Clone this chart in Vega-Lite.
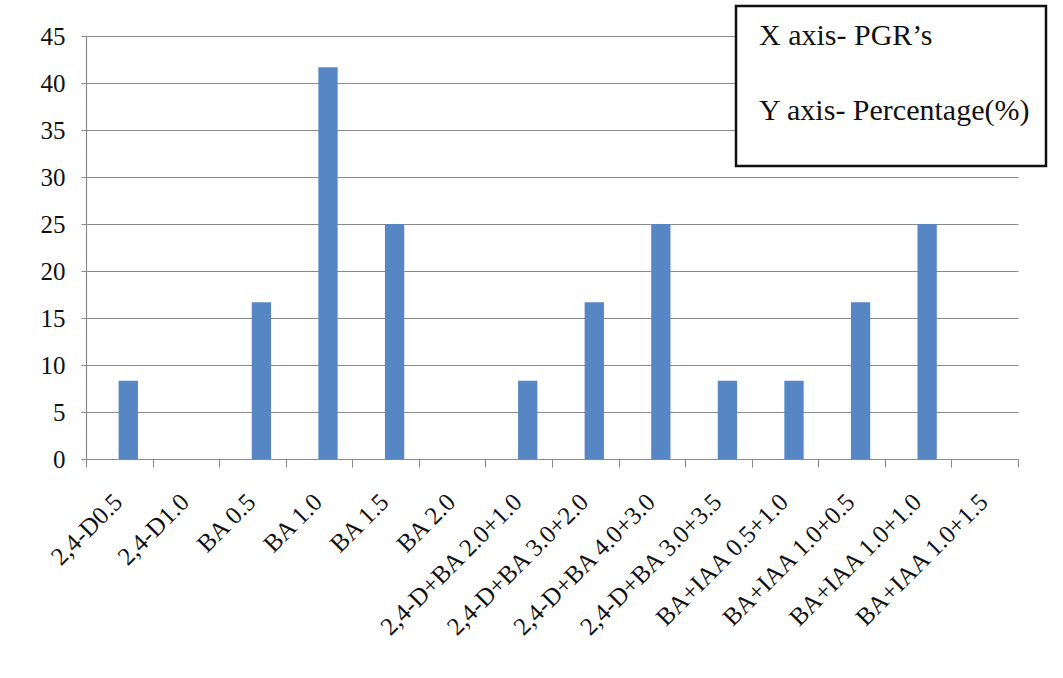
{
  "$schema": "https://vega.github.io/schema/vega-lite/v6.json",
  "width": 932,
  "height": 423,
  "autosize": {"type": "none"},
  "padding": {"left": 86, "top": 36, "right": 45, "bottom": 219},
  "background": "white",
  "config": {
    "view": {"stroke": null},
    "font": "Liberation Serif",
    "axis": {
      "labelFont": "Liberation Serif",
      "labelFontSize": 25,
      "labelColor": "#111111",
      "domainColor": "#8a8a8a",
      "tickColor": "#8a8a8a",
      "gridColor": "#8a8a8a",
      "title": null
    },
    "legend": {"strokeWidth": 2.5}
  },
  "datasets": {
    "rooting": [
      {"pgr": "2,4-D0.5", "pct": 8.33},
      {"pgr": "2,4-D1.0", "pct": 0},
      {"pgr": "BA 0.5", "pct": 16.67},
      {"pgr": "BA 1.0", "pct": 41.67},
      {"pgr": "BA 1.5", "pct": 25},
      {"pgr": "BA 2.0", "pct": 0},
      {"pgr": "2,4-D+BA 2.0+1.0", "pct": 8.33},
      {"pgr": "2,4-D+BA 3.0+2.0", "pct": 16.67},
      {"pgr": "2,4-D+BA 4.0+3.0", "pct": 25},
      {"pgr": "2,4-D+BA 3.0+3.5", "pct": 8.33},
      {"pgr": "BA+IAA 0.5+1.0", "pct": 8.33},
      {"pgr": "BA+IAA 1.0+0.5", "pct": 16.67},
      {"pgr": "BA+IAA 1.0+1.0", "pct": 25},
      {"pgr": "BA+IAA 1.0+1.5", "pct": 0}
    ],
    "notes": [
      {"note": "X axis- PGR’s"},
      {"note": "Y axis- Percentage(%)"}
    ]
  },
  "layer": [
    {
      "data": {"name": "rooting"},
      "mark": {"type": "bar", "color": "#5686c4", "width": {"band": 0.29}, "xOffset": 9},
      "encoding": {
        "x": {
          "field": "pgr",
          "type": "nominal",
          "sort": null,
          "scale": {"paddingInner": 0, "paddingOuter": 0},
          "axis": {
            "labelAngle": -45,
            "labelFont": "Liberation Serif",
            "tickBand": "extent",
            "tickSize": 8,
            "labelPadding": 22,
            "labelOffset": -10,
            "labelLimit": 400,
            "domainWidth": 1.2
          }
        },
        "y": {
          "field": "pct",
          "type": "quantitative",
          "scale": {"domain": [0, 45], "nice": false},
          "axis": {
            "values": [0, 5, 10, 15, 20, 25, 30, 35, 40, 45],
            "labelFont": "Liberation Serif",
            "tickSize": 5,
            "labelPadding": 16,
            "grid": true,
            "gridWidth": 1.1,
            "domainWidth": 1.2
          }
        }
      }
    },
    {
      "data": {"name": "notes"},
      "mark": {"type": "point", "opacity": 0},
      "encoding": {
        "color": {
          "field": "note",
          "type": "nominal",
          "scale": {"domain": ["X axis- PGR’s", "Y axis- Percentage(%)"], "range": ["white", "white"]},
          "legend": {
            "title": " ",
            "titleOrient": "bottom",
            "titleFontSize": 15,
            "titlePadding": 10,
            "orient": "none",
            "legendX": 650,
            "legendY": -30,
            "direction": "vertical",
            "fillColor": "white",
            "strokeColor": "#111111",
            "padding": 15,
            "symbolSize": 0,
            "symbolOpacity": 0,
            "symbolStrokeWidth": 0,
            "labelOffset": -22,
            "labelFont": "Liberation Serif",
            "labelFontSize": 30,
            "labelColor": "#111111",
            "labelLimit": 400,
            "rowPadding": 45
          }
        }
      }
    }
  ]
}
